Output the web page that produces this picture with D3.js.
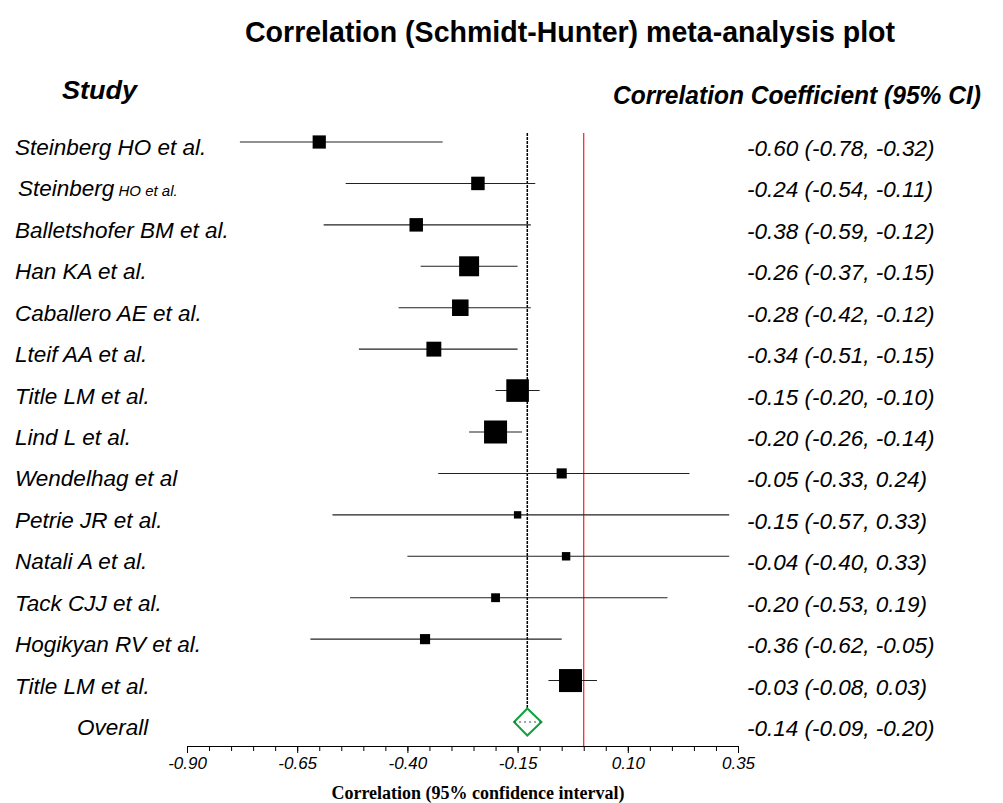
<!DOCTYPE html>
<html>
<head>
<meta charset="utf-8">
<script src="https://cdn.jsdelivr.net/npm/d3@7"></script>
<style>
  body { margin: 0; background: #fff; }
  svg { font-family: "Liberation Sans", Arial, sans-serif; }
</style>
</head>
<body>
<div id="chart"></div>
<script>
// study data
var studies = ['Steinberg HO et al.', 'Steinberg', 'Balletshofer BM et al.', 'Han KA et al.',
    'Caballero AE et al.', 'Lteif AA et al.', 'Title LM et al.', 'Lind L et al.',
    'Wendelhag et al', 'Petrie JR et al.', 'Natali A et al.', 'Tack CJJ et al.',
    'Hogikyan RV et al.', 'Title LM et al.']
var estimate = [-0.60, -0.24, -0.38, -0.26, -0.28, -0.34, -0.15, -0.20, -0.05, -0.15, -0.04, -0.20, -0.36, -0.03]
var lower = [-0.78, -0.54, -0.59, -0.37, -0.42, -0.51, -0.20, -0.26, -0.33, -0.57, -0.40, -0.53, -0.62, -0.08]
var upper = [-0.32, -0.11, -0.12, -0.15, -0.12, -0.15, -0.10, -0.14, 0.24, 0.33, 0.33, 0.19, -0.05, 0.03]
var weight = [170, 177, 177, 388, 266, 216, 497, 515, 100, 53, 69, 76, 100, 515]
var ciText = ['-0.60 (-0.78, -0.32)', '-0.24 (-0.54, -0.11)', '-0.38 (-0.59, -0.12)', '-0.26 (-0.37, -0.15)',
    '-0.28 (-0.42, -0.12)', '-0.34 (-0.51, -0.15)', '-0.15 (-0.20, -0.10)', '-0.20 (-0.26, -0.14)',
    '-0.05 (-0.33, 0.24)', '-0.15 (-0.57, 0.33)', '-0.04 (-0.40, 0.33)', '-0.20 (-0.53, 0.19)',
    '-0.36 (-0.62, -0.05)', '-0.03 (-0.08, 0.03)']

// pooled estimate (as plotted)
var overallEst = -0.128
var overallLo = -0.158
var overallHi = -0.096
var overallText = '-0.14 (-0.09, -0.20)'

var majorTicks = [-0.90, -0.65, -0.40, -0.15, 0.10, 0.35]
var minorTicks = d3.range(-0.90, 0.351, 0.05)

var width = 1003, height = 803

var svg = d3.select('#chart').append('svg')
    .attr('width', width)
    .attr('height', height)

var x = d3.scaleLinear().domain([-0.90, 0.35]).range([187, 738])
var rows = d3.range(studies.length + 1)
var y = d3.scalePoint().domain(rows).range([142, 722])
var size = d3.scaleSqrt().domain([0, d3.max(weight)]).range([0, 23])

var axisY = 746

// title + headers
svg.append('text')
    .attr('x', 245).attr('y', 42)
    .attr('textLength', 650).attr('lengthAdjust', 'spacingAndGlyphs')
    .style('font-weight', 'bold')
    .style('font-size', '30px')
    .text('Correlation (Schmidt-Hunter) meta-analysis plot')

svg.append('text')
    .attr('x', 62).attr('y', 99)
    .attr('textLength', 75).attr('lengthAdjust', 'spacingAndGlyphs')
    .style('font-weight', 'bold').style('font-style', 'italic')
    .style('font-size', '26px')
    .text('Study')

svg.append('text')
    .attr('x', 613).attr('y', 104)
    .attr('textLength', 368).attr('lengthAdjust', 'spacingAndGlyphs')
    .style('font-weight', 'bold').style('font-style', 'italic')
    .style('font-size', '26px')
    .text('Correlation Coefficient (95% CI)')

// reference lines
svg.append('line')
    .attr('x1', x(0)).attr('x2', x(0))
    .attr('y1', 133).attr('y2', axisY)
    .attr('stroke', '#ff1a1a').attr('stroke-width', 1.2)

svg.append('line')
    .attr('x1', x(overallEst)).attr('x2', x(overallEst))
    .attr('y1', 133).attr('y2', y(studies.length) - 14)
    .attr('stroke', '#000').attr('stroke-width', 1.5)
    .attr('stroke-dasharray', '3,1')

// CI lines
var g = svg.append('g')
g.selectAll('line.ci')
    .data(studies)
    .enter()
    .append('line')
    .attr('class', 'ci')
    .attr('x1', function(d, i) { return x(lower[i]) })
    .attr('x2', function(d, i) { return x(upper[i]) })
    .attr('y1', function(d, i) { return y(i) })
    .attr('y2', function(d, i) { return y(i) })
    .attr('stroke', '#222')
    .attr('stroke-width', 1.1)

g.selectAll('rect')
    .data(studies)
    .enter()
    .append('rect')
    .attr('x', function(d, i) { return x(estimate[i]) - size(weight[i]) / 2 })
    .attr('y', function(d, i) { return y(i) - size(weight[i]) / 2 })
    .attr('width', function(d, i) { return size(weight[i]) })
    .attr('height', function(d, i) { return size(weight[i]) })
    .attr('fill', '#000')

// overall diamond
var oy = y(studies.length)
svg.append('path')
    .attr('d', 'M' + x(overallLo) + ',' + oy + 'L' + x(overallEst) + ',' + (oy - 13.5) +
        'L' + x(overallHi) + ',' + oy + 'L' + x(overallEst) + ',' + (oy + 13.5) + 'Z')
    .attr('fill', '#fff')
    .attr('stroke', '#10a040')
    .attr('stroke-width', 2)
svg.append('line')
    .attr('x1', x(overallLo)).attr('x2', x(overallHi))
    .attr('y1', oy).attr('y2', oy)
    .attr('stroke', '#444').attr('stroke-width', 1)
    .attr('stroke-dasharray', '2,3')

// left labels
var labels = svg.append('g')
    .style('font-style', 'italic')
    .style('font-size', '22.5px')

labels.selectAll('text')
    .data(studies)
    .enter()
    .append('text')
    .attr('x', function(d, i) { return i == 1 ? 18 : 15 })
    .attr('y', function(d, i) { return y(i) + 13 })
    .each(function(d, i) {
        d3.select(this).append('tspan').text(d)
        if (i == 1) {
            d3.select(this).append('tspan').style('font-size', '15px').text(' HO et al.')
        }
    })

labels.append('text')
    .attr('x', 77).attr('y', oy + 13)
    .text('Overall')

// right labels
var right = svg.append('g')
    .style('font-style', 'italic')
    .style('font-size', '22.5px')
right.selectAll('text')
    .data(ciText.concat([overallText]))
    .enter()
    .append('text')
    .attr('x', 747)
    .attr('y', function(d, i) { return y(i) + 14 })
    .text(function(d) { return d })

// axis
var minorAxis = d3.axisBottom(x).tickValues(minorTicks).tickSize(5).tickSizeOuter(0).tickFormat('')
var majorAxis = d3.axisBottom(x).tickValues(majorTicks).tickSize(7).tickSizeOuter(0).tickPadding(4)
    .tickFormat(d3.format('.2f'))

svg.append('g')
    .attr('transform', 'translate(0,' + axisY + ')')
    .call(minorAxis)
    .call(function(s) { s.selectAll('line').attr('stroke', '#000') })

var ax = svg.append('g')
    .attr('transform', 'translate(0,' + axisY + ')')
    .call(majorAxis)
ax.selectAll('text')
    .style('font-family', '"Liberation Sans", Arial, sans-serif')
    .style('font-style', 'italic')
    .style('font-size', '17px')
    .text(function(d) { return d3.format('.2f')(d).replace('−', '-') })

svg.append('text')
    .attr('x', 478).attr('y', 799)
    .attr('text-anchor', 'middle')
    .style('font-family', '"Liberation Serif", "Times New Roman", serif')
    .style('font-weight', 'bold')
    .style('font-size', '18px')
    .text('Correlation (95% confidence interval)')
</script>
</body>
</html>
